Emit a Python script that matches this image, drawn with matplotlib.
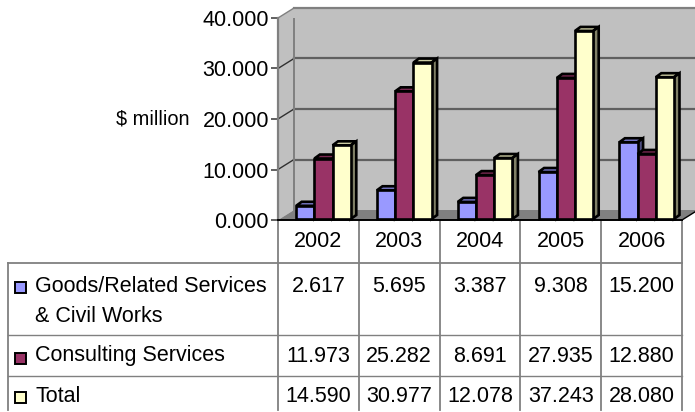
import matplotlib
matplotlib.use('Agg')
import matplotlib.pyplot as plt
from matplotlib.patches import Polygon, Rectangle

plt.rcParams['font.family'] = ['Liberation Sans', 'DejaVu Sans']

years = ['2002', '2003', '2004', '2005', '2006']
goods = [2.617, 5.695, 3.387, 9.308, 15.200]
consulting = [11.973, 25.282, 8.691, 27.935, 12.880]
total = [14.590, 30.977, 12.078, 37.243, 28.080]
y_ticks = [0, 10, 20, 30, 40]
series_names = ['Goods/Related Services\n& Civil Works', 'Consulting Services', 'Total']

W, H = 695, 412
FS = 15.5
GRAY = '#808080'
GRID = '#606060'

fig = plt.figure(figsize=(W / 100, H / 100), dpi=100)

# tablo icin piksel koordinatli tam ekran eksen
tab = fig.add_axes([0, 0, 1, 1], zorder=1)
tab.set_xlim(0, W)
tab.set_ylim(H, 0)
tab.axis('off')

# grafik ekseni: on duzlem 278-682 px, 18-220 px
left, right, top, bottom = 278, 682, 18, 220
ax = fig.add_axes([left / W, 1 - bottom / H, (right - left) / W, (bottom - top) / H], zorder=2)
ax.set_xlim(0, len(years))
ax.set_ylim(0, 40)
ax.patch.set_alpha(0)
for s in ax.spines.values():
    s.set_visible(False)

px_x = len(years) / (right - left)
px_y = 40 / (bottom - top)
wall_dx, wall_dy = 16 * px_x, 10 * px_y
nx = len(years)


def poly(pts, fc, ec='none', lw=0, z=1):
    ax.add_patch(Polygon(pts, closed=True, facecolor=fc, edgecolor=ec, linewidth=lw,
                         zorder=z, clip_on=False, joinstyle='miter'))


# duvarlar ve zemin
poly([(wall_dx, wall_dy), (nx + wall_dx, wall_dy), (nx + wall_dx, 40 + wall_dy), (wall_dx, 40 + wall_dy)], '#C0C0C0')
poly([(0, 0), (wall_dx, wall_dy), (wall_dx, 40 + wall_dy), (0, 40)], '#C0C0C0')
poly([(0, 0), (nx, 0), (nx + wall_dx, wall_dy), (wall_dx, wall_dy)], GRAY)

for v in y_ticks[1:]:
    col = GRID if v < 40 else GRAY
    ax.plot([wall_dx, nx + wall_dx], [v + wall_dy] * 2, color=col, lw=1.6, zorder=1.5, clip_on=False)
    ax.plot([0, wall_dx], [v, v + wall_dy], color='#303030' if v < 40 else GRAY, lw=1, zorder=1.5, clip_on=False)
ax.plot([wall_dx, wall_dx], [wall_dy, 40 + wall_dy], color=GRAY, lw=1.4, zorder=1.6)
ax.plot([0, 0], [0, 40], color=GRAY, lw=1.6, zorder=1.6, clip_on=False)
ax.plot([nx, nx + wall_dx], [0, wall_dy], color='black', lw=1, zorder=1.6, clip_on=False)
ax.plot([0, nx], [0, 0], color='black', lw=1.4, zorder=1.6, clip_on=False)

# 3B sutunlar
bar_w = 18.2 * px_x
depth_x, depth_y = 5.5 * px_x, 4 * px_y
base = 1 * px_y
group_shift = 0.063
edge = 1.9
colors = [('#9999FF', '#7A7ACC', '#4D4D80'), ('#993366', '#7A2952', '#4D1A33'), ('#FFFFCC', '#CCCCA3', '#808066')]
for k, vals in enumerate([goods, consulting, total]):
    front, topc, sidec = colors[k]
    z = 3 + k
    for i, v in enumerate(vals):
        x0 = i + 0.5 + group_shift + (k - 1.5) * bar_w
        x1 = x0 + bar_w
        h = v + base
        poly([(x0, h), (x1, h), (x1 + depth_x, h + depth_y), (x0 + depth_x, h + depth_y)], topc, 'black', edge, z)
        poly([(x1, base), (x1 + depth_x, base + depth_y), (x1 + depth_x, h + depth_y), (x1, h)], sidec, 'black', edge, z)
    ax.bar([i + 0.5 + group_shift + (k - 1) * bar_w for i in range(nx)], vals, width=bar_w, bottom=base,
           color=front, edgecolor='black', linewidth=edge, zorder=z + 0.5, clip_on=False)

ax.set_xticks([])
ax.set_yticks(y_ticks)
ax.set_yticklabels([f'{v:.3f}' for v in y_ticks], fontsize=FS, color='black')
ax.tick_params(axis='y', length=5, width=1.4, color=GRID, pad=1.5)
fig.text(189 / W, 1 - 119 / H, '$ million', fontsize=14.4, ha='right', va='center')

# veri tablosu
col_x = [left + i * (right - left) / nx for i in range(nx + 1)]
row_y = [263, 335, 376, 410]
tab.plot([8, 8], [row_y[0], row_y[-1]], color=GRAY, lw=1.3)
tab.plot([8, right], [row_y[0]] * 2, color=GRAY, lw=1.3)
tab.plot([8, right], [row_y[1]] * 2, color=GRAY, lw=1)
tab.plot([8, right], [row_y[2]] * 2, color=GRAY, lw=1)
for x in col_x:
    tab.plot([x, x], [bottom, row_y[-1]], color=GRAY, lw=1.3)

for i, year in enumerate(years):
    tab.text((col_x[i] + col_x[i + 1]) / 2, 241, year, fontsize=FS, ha='center', va='center')

text_y = [286, 356, 396]
swatch_y = [287, 358, 397]
for k, (name, vals) in enumerate(zip(series_names, [goods, consulting, total])):
    tab.add_patch(Rectangle((14.5, swatch_y[k] - 5.5), 11.5, 11.5, facecolor=colors[k][0], edgecolor='black', linewidth=1.4))
    for j, line in enumerate(name.split('\n')):
        tab.text(35, text_y[k] + 30 * j, line, fontsize=FS, ha='left', va='center')
    for i, v in enumerate(vals):
        tab.text((col_x[i] + col_x[i + 1]) / 2, text_y[k], f'{v:.3f}', fontsize=FS, ha='center', va='center')

fig.savefig('out.png', dpi=100)
